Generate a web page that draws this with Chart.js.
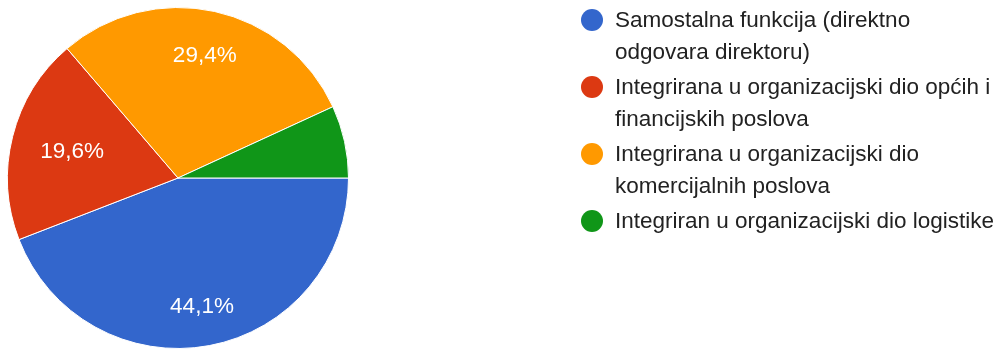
<!DOCTYPE html>
<html>
<head>
<meta charset="utf-8">
<script src="https://cdn.jsdelivr.net/npm/chart.js@4/dist/chart.umd.min.js"></script>
<style>
  html, body { margin: 0; padding: 0; background: #fff; }
  #wrap { position: relative; width: 1003px; height: 349px; overflow: hidden; }
  #pie { position: absolute; left: 0; top: 0; }
  #legend { position: absolute; left: 580px; top: 4px; font-family: "Liberation Sans", Arial, sans-serif; font-size: 22.5px; color: #222; }
  .item { position: relative; padding-left: 35px; line-height: 32px; margin-bottom: 3px; white-space: nowrap; }
  .dot { position: absolute; left: 1px; top: 5px; width: 22px; height: 22px; border-radius: 50%; }
</style>
</head>
<body>
<div id="wrap">
  <canvas id="pie" width="1003" height="349"></canvas>
  <div id="legend"></div>
</div>
<script>
// Answers (each category wrapped onto its legend lines)
const categories = [
  ["Samostalna funkcija (direktno", "odgovara direktoru)"],
  ["Integrirana u organizacijski dio općih i", "financijskih poslova"],
  ["Integrirana u organizacijski dio", "komercijalnih poslova"],
  ["Integriran u organizacijski dio logistike"]
];
// Number of responses per answer
const responses = [45, 20, 30, 7];
const sliceColors = ["#3366cc", "#dc3912", "#ff9900", "#109618"];

const total = responses.reduce((a, b) => a + b, 0);
const pctText = v => (v / total * 100).toFixed(1).replace(".", ",") + "%";

// Percentage text inside each slice that is large enough
const sliceLabels = {
  id: "sliceLabels",
  afterDatasetsDraw(chart, args, opts) {
    const ctx = chart.ctx;
    const meta = chart.getDatasetMeta(0);
    ctx.save();
    ctx.font = '22.5px "Liberation Sans", Arial, sans-serif';
    ctx.fillStyle = "#ffffff";
    ctx.textAlign = "center";
    ctx.textBaseline = "middle";
    meta.data.forEach((arc, i) => {
      const v = responses[i];
      if (v / total < 0.1) return;
      const p = arc.getProps(["x", "y", "startAngle", "endAngle", "outerRadius"], true);
      const mid = (p.startAngle + p.endAngle) / 2;
      const r = p.outerRadius * opts.radius[i];
      ctx.fillText(pctText(v), p.x + Math.cos(mid) * r, p.y + Math.sin(mid) * r);
    });
    ctx.restore();
  }
};

new Chart(document.getElementById("pie"), {
  type: "pie",
  data: {
    labels: categories,
    datasets: [{
      data: responses,
      backgroundColor: sliceColors,
      borderColor: "#ffffff",
      borderWidth: 1
    }]
  },
  options: {
    responsive: false,
    animation: false,
    devicePixelRatio: 1,
    rotation: 90,
    layout: { padding: { left: 7, top: 7, right: 654, bottom: 0 } },
    plugins: {
      legend: { display: false },
      tooltip: { enabled: false },
      // how far out along each slice's middle the percentage sits
      sliceLabels: { radius: [0.766, 0.64, 0.734, 0.7] }
    }
  },
  plugins: [sliceLabels]
});

// Legend beside the pie
const legend = document.getElementById("legend");
categories.forEach((lines, i) => {
  const item = document.createElement("div");
  item.className = "item";
  const dot = document.createElement("span");
  dot.className = "dot";
  dot.style.background = sliceColors[i];
  item.appendChild(dot);
  lines.forEach((t, j) => {
    if (j) item.appendChild(document.createElement("br"));
    item.appendChild(document.createTextNode(t));
  });
  legend.appendChild(item);
});
</script>
</body>
</html>
